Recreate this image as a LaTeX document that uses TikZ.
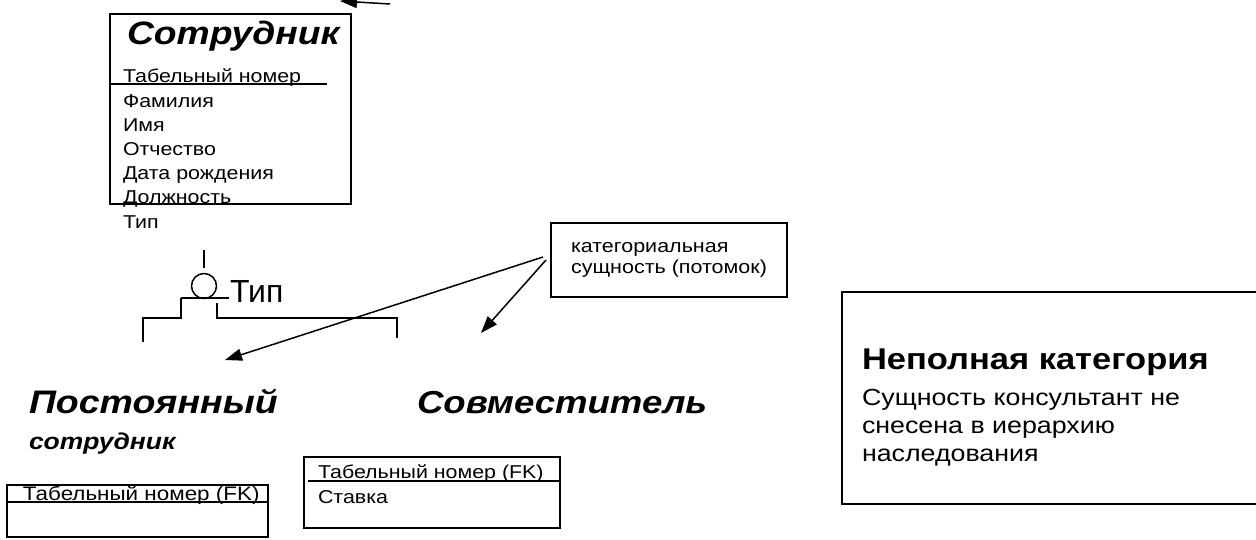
\documentclass[tikz,border=0pt]{standalone}
\usepackage{fontspec}
\setmainfont{Liberation Sans}[FakeStretch=1.15]
\newfontfamily\plainfont{Liberation Sans}
\usetikzlibrary{arrows.meta,positioning}

\begin{document}
\begin{tikzpicture}[
    x=1pt, y=-1pt,
    every node/.style={inner sep=0pt, outer sep=0pt},
    entity/.style={draw, line width=1.6pt, anchor=north west},
    enttitle/.style={anchor=base west,
        font=\fontsize{32.4}{36}\selectfont\bfseries\itshape},
    attr/.style={anchor=base west, font=\fontsize{18.6}{23}\selectfont},
    link/.style={line width=1.5pt},
    pointer/.style={line width=1.5pt, -{Triangle[length=17pt,width=12pt]}},
    note/.style={draw, line width=1.4pt, anchor=north west, align=left,
        font=\fontsize{18.7}{21}\selectfont},
    remark/.style={anchor=base west, font=\fontsize{23.3}{28}\selectfont}
    ]
\useasboundingbox (0,0) rectangle (1256,540);

%parent entity
\node[entity, minimum width=241pt, minimum height=190pt] (emp) at (110,14) {};
\node[enttitle] (emp title) at (127,45) {Сотрудник};
\node[attr] (emp key) at (123,83) {Табельный номер};
\draw[link] (110,84) -- (327,84);
\foreach \attrname [count=\i] in {Фамилия, Имя, Отчество, Дата рождения, Должность, Тип}
    \node[attr] (emp attr \i) at (123,83+24.2*\i) {\attrname};
\coordinate (top tail) at (390,4);
\coordinate (top tip) at (340,1);
\draw[pointer] (top tail) -- (top tip);

%categorization symbol
\node[draw, circle, link, minimum size=25pt] (cat) at (204,286) {};
\coordinate (cat top) at (204,250);
\draw[link] (cat top) -- ++(0,18);
\draw[link] (181,298) -- (229,298);
\node[anchor=base west, font=\plainfont\fontsize{32}{32}\selectfont] (cat label) at (230,302) {Тип};
\draw[link] (181,298) -- (181,318) -- (143,318) -- (143,342);
\draw[link] (217,303) -- (217,318) -- (397,318) -- (397,338);

%callout
\node[note, minimum width=236pt, minimum height=74pt] (callout) at (551,223)
    {категориальная\\сущность (потомок)};
\coordinate (perm tip) at (225,360);
\coordinate (part tip) at (481,333);
\draw[pointer] ([xshift=-8pt,yshift=3pt]callout.west) -- (perm tip);
\draw[pointer] ([xshift=-5pt]callout.west) -- (part tip);

%child entity 1
\node[enttitle, font=\fontsize{32.6}{36}\selectfont\bfseries\itshape] (perm title) at (29,413) {Постоянный};
\node[anchor=base west, font=\fontsize{23}{26}\selectfont\bfseries\itshape] (perm sub) at (29,449) {сотрудник};
\node[entity, minimum width=261pt, minimum height=52pt] (perm) at (7,485) {};
\node[attr, font=\fontsize{19.5}{23}\selectfont] (perm key) at (23,500) {Табельный номер (FK)};
\draw[link] (7,502) -- (268,502);

%child entity 2
\node[enttitle, font=\fontsize{31.8}{36}\selectfont\bfseries\itshape] (part title) at (417,413) {Совместитель};
\node[entity, minimum width=256pt, minimum height=71pt] (part) at (304,457) {};
\node[attr] (part key) at (318,478) {Табельный номер (FK)};
\draw[link] (308,481) -- (560,481);
\node[attr] (part attr) at (318,503) {Ставка};

%remark
\draw[line width=1.4pt] (1256,292) -- (842,292) -- (842,504) -- (1256,504);
\node[anchor=base west, font=\fontsize{30}{32}\selectfont\bfseries] (remark title) at (862,369) {Неполная категория};
\node[remark] (remark 1) at (862,405) {Сущность консультант не};
\node[remark] (remark 2) at (862,433) {снесена в иерархию};
\node[remark] (remark 3) at (862,461) {наследования};
\end{tikzpicture}
\end{document}
